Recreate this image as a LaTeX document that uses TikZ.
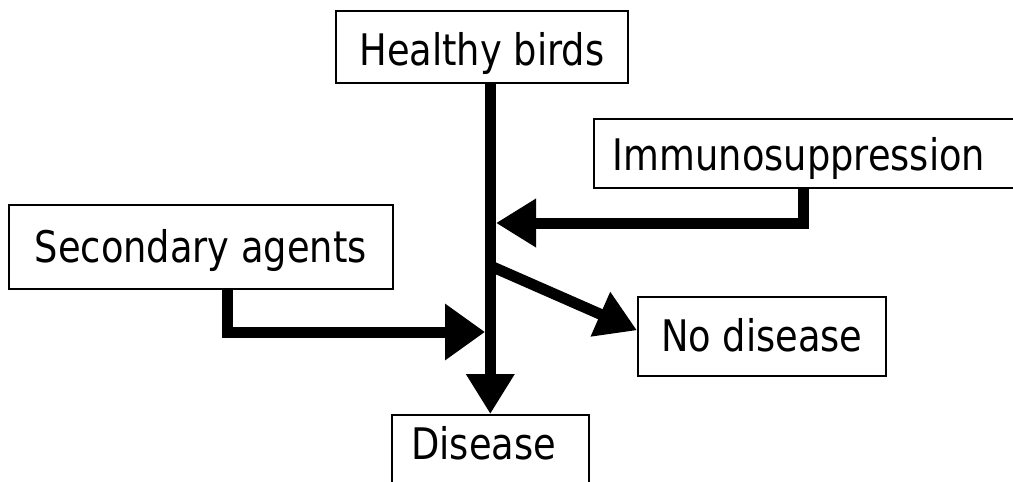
\documentclass[tikz,border=0pt]{standalone}
\usepackage{fontspec}
\setmainfont{DejaVu Sans}[FakeStretch=0.846]
\usetikzlibrary{arrows.meta}
\begin{document}
\begin{tikzpicture}[x=1pt,y=-1pt,
  box/.style={draw, line width=1.6pt, inner sep=0pt, anchor=north west,
    font=\fontsize{43.5pt}{52pt}\selectfont},
  conn/.style={line width=11pt, line join=miter,
    -{Triangle[length=40pt,width=46pt]}}]
\useasboundingbox (0,0) rectangle (1013,482);
\clip (0,0) rectangle (1013,482);
% boxes
\node[box, minimum width=292pt, text height=55pt, text depth=17pt] (HB) at (335,10) {Healthy birds};
\node[box, text height=52pt, text depth=17pt] (IM) at (593,118) {\hspace*{19pt}Immunosuppression\hspace*{40pt}};
\node[box, minimum width=384pt, text height=57.7pt, text depth=26.3pt] (SA) at (8,204) {Secondary agents};
\node[box, minimum width=248pt, text height=54.7pt, text depth=24.3pt] (ND) at (637,296) {No disease};
\node[box, minimum width=197pt, text height=45pt, text depth=60pt] (DI) at (391,414) {Disease\hspace*{13pt}};
% helper coordinates
\coordinate (e1) at (803,223);
\coordinate (j1) at (496,223);
\coordinate (e2) at (227,332);
\coordinate (j2) at (485,332);
\coordinate (j3) at (490.5,266);
% connectors
\draw[conn] (HB.south -| DI.north) -- (DI.north);
\draw[conn] (IM.south -| e1) -- (e1) -- (j1);
\draw[conn, -{Triangle[length=40pt,width=54pt]}] (SA.south -| e2) -- (e2) -- (j2);
\draw[conn] (j3) -- ([yshift=6pt]ND.west);
\end{tikzpicture}
\end{document}
